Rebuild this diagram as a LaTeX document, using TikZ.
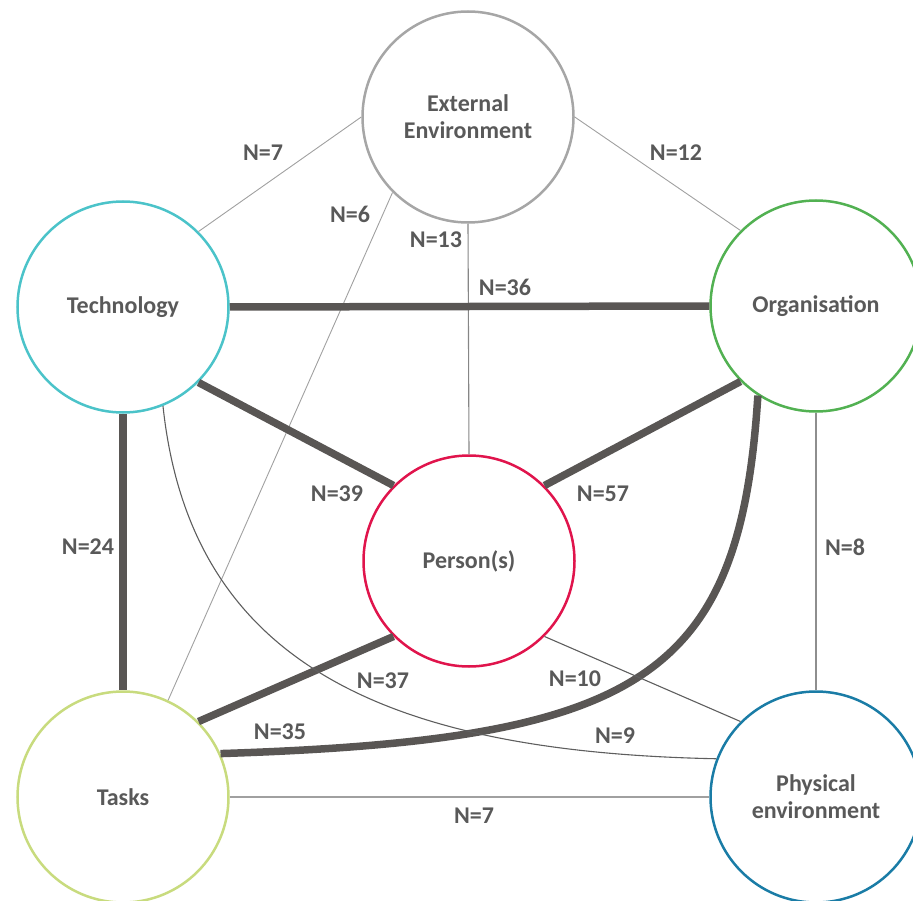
\documentclass[tikz,border=0pt]{standalone}
\usepackage{fontspec}
\setmainfont{Carlito}
\definecolor{txtgrey}{HTML}{595959}
\definecolor{linkdark}{HTML}{595654}
\definecolor{linkmid}{HTML}{5E5E5E}
\definecolor{linklight}{HTML}{A0A0A0}
\definecolor{extcol}{HTML}{A6A6A6}
\definecolor{techcol}{HTML}{4BC3C9}
\definecolor{orgcol}{HTML}{52B152}
\definecolor{perscol}{HTML}{E0144C}
\definecolor{taskcol}{HTML}{C8DB7E}
\definecolor{physcol}{HTML}{1A7CA6}
\tikzset{
  factor/.style={circle, draw=#1, line width=2.5pt, minimum size=211pt, inner sep=0pt,
    align=center, text=txtgrey, font=\bfseries\fontsize{24}{27}\selectfont},
  count/.style={text=txtgrey, font=\bfseries\fontsize{24}{27}\selectfont, inner sep=0pt},
  strong/.style={draw=linkdark, line width=7.5pt},
  weak/.style={draw=linkmid, line width=1.1pt},
  faint/.style={draw=linklight, line width=0.9pt},
}
\begin{document}
\begin{tikzpicture}[x=1pt, y=-1pt]
\useasboundingbox (0,0) rectangle (913,901);
\begin{scope}
\clip (0,0) rectangle (913,901);
% the six factors
\node[factor=extcol]  (ext)   at (468,117) {External\\Environment};
\node[factor=techcol] (tech)  at (123,307) {Technology};
\node[factor=orgcol]  (org)   at (816,306) {Organisation};
\node[factor=perscol] (pers)  at (469,561) {Person(s)};
\node[factor=taskcol] (tasks) at (123,797) {Tasks};
\node[factor=physcol] (phys)  at (816,797) {Physical\\environment};

% links, width by number of studies
\draw[faint] (ext.west) -- (tech.north east);
\draw[faint] (ext.east) -- (org.north west);
\draw[faint] (ext.south west) -- (tasks.65);
\draw[weak, draw=linkmid!75] (ext.south) -- (pers.north);
\draw[strong] (tech.east) -- (org.west);
\draw[strong] (tech.south east) -- (pers.north west);
\draw[strong] (org.south west) -- (pers.north east);
\draw[strong] (tech.south) -- (tasks.north);
\draw[strong] (pers.south west) -- (tasks.north east);
\draw[strong] (org.237) .. controls (740,680) and (640,740) .. (tasks.24);
\draw[weak] (tech.292) .. controls (190,660) and (380,752) .. (phys.159);
\draw[weak] (pers.south east) -- (phys.north west);
\draw[weak, draw=linkmid!70] (org.south) -- (phys.north);
\draw[draw=linklight, line width=2pt] (tasks.east) -- (phys.west);
\end{scope}

% counts
\node[count] (n1)  at (263,153) {N=7};
\node[count] (n2)  at (676,153) {N=12};
\node[count] (n3)  at (350,214) {N=6};
\node[count] (n4)  at (436,240) {N=13};
\node[count] (n5)  at (505,287) {N=36};
\node[count] (n6)  at (337,494) {N=39};
\node[count] (n7)  at (603,494) {N=57};
\node[count] (n8)  at (88,547)  {N=24};
\node[count] (n9)  at (845,547) {N=8};
\node[count] (n10) at (383,681) {N=37};
\node[count] (n11) at (575,679) {N=10};
\node[count] (n12) at (280,732) {N=35};
\node[count] (n13) at (615,736) {N=9};
\node[count] (n14) at (474,816) {N=7};
\end{tikzpicture}
\end{document}
